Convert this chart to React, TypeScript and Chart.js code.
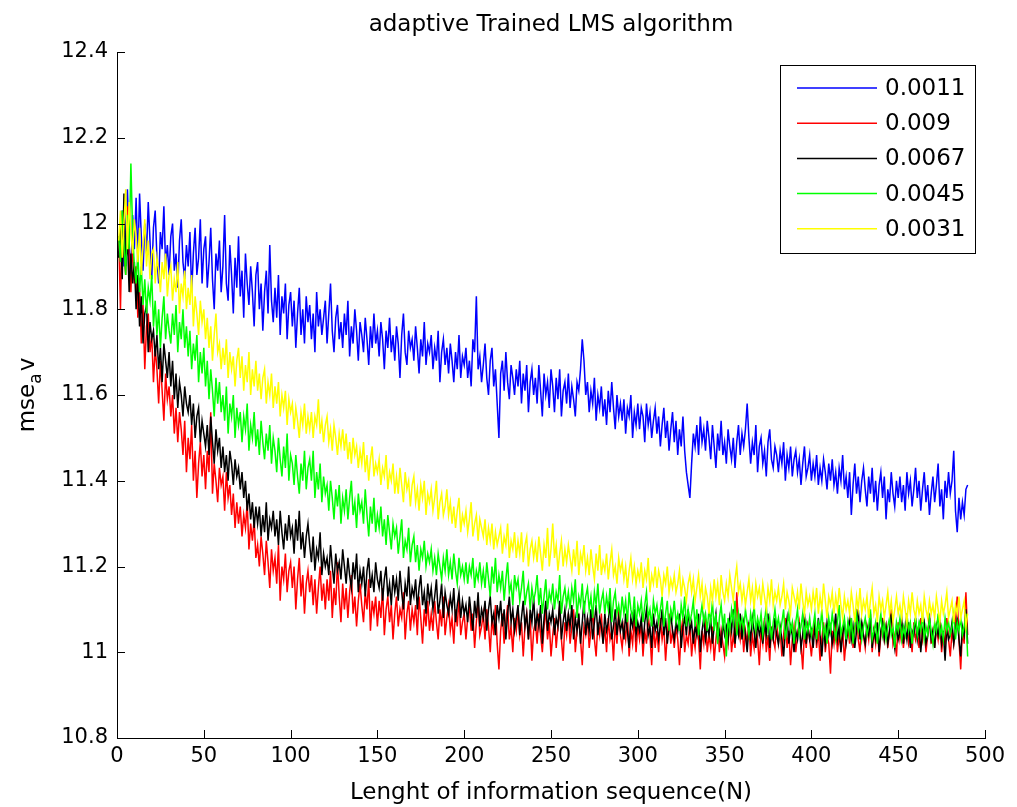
import React, { useEffect, useRef } from "react";
import { Chart, registerables } from "chart.js";
Chart.register(...registerables);

const FONT = "'DejaVu Sans', sans-serif";
const FONT_SIZE = 23;
const TICK_FONT_SIZE = 21;

const chartTitle = "adaptive Trained LMS algorithm";
const xAxisTitle = "Lenght of information sequence(N)";
const yAxisTitleMain = "mse";
const yAxisTitleSub = "a";
const yAxisTitleEnd = "v";

const xTickValues = [0, 50, 100, 150, 200, 250, 300, 350, 400, 450, 500];
const yTickValues = [10.8, 11, 11.2, 11.4, 11.6, 11.8, 12, 12.2, 12.4];

const seriesLabels = ["0.0011", "0.009", "0.0067", "0.0045", "0.0031"];
const seriesColors = ["#0000ff", "#ff0000", "#000000", "#00ff00", "#ffff00"];

const mu0011 = [
  11.93, 11.99, 12.03, 11.90, 11.97, 12.08, 11.95, 11.88, 12.02, 11.94,
  12.06, 11.91, 12.07, 11.97, 11.89, 12.00, 11.93, 12.05, 11.96, 11.87,
  11.99, 12.03, 11.92, 11.86, 11.98, 11.94, 12.04, 11.90, 11.95, 11.88,
  11.97, 12.00, 11.89, 11.93, 11.85, 11.96, 12.01, 11.91, 11.87, 11.95,
  11.90, 11.98, 11.84, 11.93, 11.99, 11.88, 11.92, 12.01, 11.86, 11.94,
  11.97, 11.85, 11.91, 11.99, 11.87, 11.80, 11.93, 11.89, 11.96, 11.84,
  11.90, 12.02, 11.86, 11.82, 11.95, 11.88, 11.79, 11.92, 11.85, 11.97,
  11.83, 11.89, 11.78, 11.93, 11.86, 11.81, 11.90, 11.84, 11.76, 11.88,
  11.91, 11.80, 11.86, 11.75, 11.84, 11.89, 11.79, 11.95, 11.82, 11.77,
  11.85, 11.78, 11.88, 11.74, 11.83, 11.79, 11.86, 11.73, 11.81, 11.84,
  11.76, 11.82, 11.71, 11.79, 11.85, 11.74, 11.80, 11.72, 11.83, 11.77,
  11.81, 11.73, 11.79, 11.70, 11.84, 11.76, 11.80, 11.74, 11.78, 11.82,
  11.72, 11.79, 11.86, 11.75, 11.70, 11.78, 11.81, 11.73, 11.77, 11.71,
  11.79, 11.74, 11.82, 11.69, 11.76, 11.72, 11.80, 11.75, 11.68, 11.77,
  11.74, 11.70, 11.78, 11.73, 11.67, 11.76, 11.71, 11.79, 11.72, 11.75,
  11.69, 11.77, 11.73, 11.66, 11.75, 11.71, 11.78, 11.70, 11.74, 11.68,
  11.76, 11.72, 11.64, 11.74, 11.79, 11.70, 11.67, 11.75, 11.71, 11.73,
  11.68, 11.76, 11.71, 11.65, 11.73, 11.69, 11.77, 11.67, 11.72, 11.70,
  11.74, 11.66, 11.71, 11.68, 11.75, 11.63, 11.70, 11.73, 11.67, 11.71,
  11.65, 11.72, 11.68, 11.63, 11.70, 11.66, 11.74, 11.64, 11.69, 11.67,
  11.71, 11.64, 11.68, 11.62, 11.73, 11.70, 11.83, 11.66, 11.69, 11.63,
  11.67, 11.72, 11.64, 11.60, 11.68, 11.71, 11.62, 11.66, 11.58, 11.50,
  11.65, 11.68, 11.61, 11.70, 11.63, 11.59, 11.67, 11.64, 11.60, 11.66,
  11.62, 11.68, 11.58, 11.65, 11.61, 11.67, 11.56, 11.63, 11.66, 11.60,
  11.64, 11.58, 11.67, 11.61, 11.55, 11.65, 11.60, 11.63, 11.57, 11.66,
  11.62, 11.56, 11.64, 11.59, 11.66, 11.55, 11.61, 11.63, 11.58, 11.65,
  11.57, 11.62, 11.59, 11.55, 11.63, 11.61, 11.66, 11.73, 11.68, 11.60,
  11.63, 11.56, 11.61, 11.58, 11.64, 11.54, 11.60, 11.57, 11.62, 11.55,
  11.59, 11.53, 11.61, 11.56, 11.63, 11.57, 11.52, 11.60, 11.55, 11.58,
  11.54, 11.59, 11.51, 11.57, 11.55, 11.60, 11.50, 11.56, 11.53, 11.58,
  11.52, 11.57, 11.55, 11.49, 11.58, 11.53, 11.56, 11.50, 11.54, 11.57,
  11.51, 11.55, 11.48, 11.53, 11.57, 11.50, 11.54, 11.47, 11.52, 11.56,
  11.49, 11.54, 11.46, 11.52, 11.48, 11.55, 11.47, 11.42, 11.39, 11.36,
  11.44, 11.51, 11.48, 11.53, 11.46, 11.55, 11.49, 11.52, 11.47, 11.54,
  11.50, 11.45, 11.53, 11.48, 11.43, 11.51, 11.47, 11.54, 11.46, 11.49,
  11.44, 11.52, 11.48, 11.45, 11.50, 11.43, 11.49, 11.53, 11.46, 11.51,
  11.48, 11.52, 11.58, 11.50, 11.44, 11.49, 11.46, 11.53, 11.42, 11.48,
  11.50, 11.44, 11.47, 11.41, 11.49, 11.52, 11.45, 11.43, 11.48, 11.46,
  11.42, 11.47, 11.44, 11.49, 11.40, 11.46, 11.43, 11.48, 11.41, 11.45,
  11.47, 11.42, 11.45, 11.39, 11.44, 11.48, 11.41, 11.43, 11.46, 11.40,
  11.44, 11.41, 11.46, 11.39, 11.43, 11.40, 11.45, 11.42, 11.38, 11.44,
  11.40, 11.45, 11.39, 11.42, 11.37, 11.43, 11.40, 11.46, 11.38, 11.41,
  11.36, 11.42, 11.32, 11.39, 11.44, 11.37, 11.41, 11.35, 11.40, 11.43,
  11.38, 11.34, 11.41, 11.37, 11.43, 11.35, 11.40, 11.33, 11.39, 11.42,
  11.36, 11.41, 11.31, 11.38, 11.35, 11.42, 11.37, 11.34, 11.40, 11.36,
  11.41, 11.35, 11.39, 11.33, 11.42, 11.37, 11.40, 11.34, 11.38, 11.43,
  11.36, 11.40, 11.33, 11.38, 11.42, 11.35, 11.39, 11.32, 11.37, 11.41,
  11.35, 11.39, 11.44, 11.34, 11.38, 11.31, 11.40, 11.36, 11.42, 11.37,
  11.40, 11.47, 11.33, 11.28, 11.36, 11.31, 11.35, 11.32, 11.38, 11.39,
];

const mu009 = [
  11.97, 11.80, 12.02, 11.93, 11.88, 12.04, 11.91, 11.84, 11.96, 11.86,
  11.90, 11.78, 11.85, 11.72, 11.81, 11.66, 11.76, 11.79, 11.70, 11.74,
  11.63, 11.71, 11.66, 11.58, 11.68, 11.61, 11.54, 11.65, 11.59, 11.62,
  11.55, 11.60, 11.51, 11.57, 11.49, 11.56, 11.52, 11.46, 11.54, 11.42,
  11.50, 11.45, 11.53, 11.40, 11.47, 11.36, 11.44, 11.49, 11.41, 11.46,
  11.38, 11.47, 11.42, 11.56, 11.37, 11.44, 11.40, 11.35, 11.43, 11.39,
  11.41, 11.33, 11.42, 11.36, 11.39, 11.32, 11.37, 11.29, 11.35, 11.30,
  11.34, 11.27, 11.32, 11.29, 11.35, 11.24, 11.30, 11.26, 11.31, 11.22,
  11.25, 11.20, 11.27, 11.23, 11.18, 11.26, 11.21, 11.15, 11.24, 11.19,
  11.22, 11.16, 11.25, 11.12, 11.20, 11.17, 11.23, 11.14, 11.19, 11.21,
  11.15, 11.20, 11.10, 11.17, 11.22, 11.13, 11.18, 11.09, 11.16, 11.19,
  11.14, 11.18, 11.11, 11.17, 11.09, 11.15, 11.20, 11.12, 11.16, 11.10,
  11.17, 11.12, 11.19, 11.08, 11.15, 11.11, 11.21, 11.13, 11.07, 11.16,
  11.10, 11.15, 11.08, 11.14, 11.18, 11.09, 11.13, 11.06, 11.12, 11.16,
  11.11, 11.07, 11.14, 11.10, 11.17, 11.05, 11.12, 11.09, 11.13, 11.06,
  11.12, 11.08, 11.15, 11.04, 11.10, 11.13, 11.07, 11.11, 11.03, 11.09,
  11.13, 11.06, 11.10, 11.08, 11.14, 11.03, 11.09, 11.12, 11.05, 11.10,
  11.07, 11.11, 11.04, 11.13, 11.08, 11.02, 11.10, 11.06, 11.12, 11.05,
  11.09, 11.05, 11.12, 11.07, 11.03, 11.10, 11.06, 11.13, 11.04, 11.08,
  11.11, 11.05, 11.08, 11.02, 11.10, 11.06, 11.13, 11.04, 11.07, 11.09,
  11.03, 11.08, 11.11, 11.05, 11.09, 11.01, 11.07, 11.12, 11.04, 11.06,
  11.09, 11.03, 11.10, 11.06, 11.00, 11.08, 11.04, 11.11, 11.02, 10.96,
  11.05, 11.09, 11.02, 11.07, 11.11, 11.03, 11.06, 11.00, 11.08, 11.05,
  11.10, 11.04, 11.07, 10.99, 11.06, 11.09, 11.03, 11.08, 10.98, 11.05,
  11.07, 11.02, 11.09, 11.04, 11.00, 11.06, 11.10, 11.03, 11.07, 10.99,
  11.04, 11.08, 11.01, 11.06, 11.11, 11.03, 10.98, 11.07, 11.04, 11.09,
  11.02, 11.06, 11.10, 11.00, 11.05, 11.08, 11.03, 10.97, 11.06, 11.04,
  11.08, 11.01, 11.05, 11.10, 11.03, 10.99, 11.07, 11.04, 11.09, 11.02,
  11.06, 11.00, 11.08, 11.03, 11.05, 10.98, 11.07, 11.02, 11.10, 11.04,
  11.01, 11.06, 11.03, 11.09, 10.99, 11.05, 11.02, 11.08, 11.00, 11.06,
  11.03, 11.07, 10.99, 11.05, 11.02, 11.09, 11.04, 10.97, 11.06, 11.01,
  11.05, 11.00, 11.08, 11.03, 11.06, 10.98, 11.04, 11.09, 11.02, 11.05,
  11.01, 11.06, 11.03, 10.97, 11.05, 11.08, 11.00, 11.04, 11.02, 11.07,
  10.99, 11.04, 11.01, 11.06, 11.03, 10.96, 11.05, 11.02, 11.08, 11.00,
  11.04, 11.01, 11.06, 10.98, 11.03, 11.07, 11.00, 11.05, 11.02, 10.99,
  11.05, 11.02, 11.08, 11.00, 11.04, 11.01, 11.14, 11.06, 11.03, 11.07,
  11.00, 11.05, 11.02, 11.07, 10.99, 11.04, 11.01, 11.06, 11.03, 10.97,
  11.05, 11.02, 11.08, 11.00, 11.04, 10.98, 11.06, 11.03, 11.01, 11.07,
  11.02, 11.05, 10.99, 11.04, 11.08, 11.01, 11.05, 10.97, 11.03, 11.06,
  11.00, 11.04, 11.07, 11.02, 10.96, 11.05, 11.01, 11.06, 11.03, 10.99,
  11.04, 11.08, 11.01, 11.05, 10.98, 11.03, 11.07, 11.00, 11.04, 11.02,
  10.95, 11.05, 11.02, 11.07, 11.00, 11.04, 11.01, 11.06, 10.98, 11.03,
  11.06, 11.02, 11.08, 11.01, 11.05, 11.10, 11.03, 11.00, 11.07, 11.04,
  11.01, 11.06, 11.03, 11.09, 11.00, 11.05, 11.02, 11.07, 10.99, 11.04,
  11.08, 11.03, 11.06, 11.01, 11.05, 11.10, 11.02, 11.04, 10.99, 11.07,
  11.03, 11.06, 11.01, 11.05, 11.09, 11.02, 11.04, 11.00, 11.07, 11.03,
  11.05, 11.01, 11.08, 11.03, 11.06, 11.00, 11.04, 11.09, 11.02, 11.05,
  11.01, 11.06, 11.03, 11.07, 11.00, 11.04, 11.02, 11.08, 11.03, 10.99,
  11.05, 11.02, 11.07, 11.13, 11.03, 10.96, 11.05, 11.02, 11.14, 11.04,
];

const mu0067 = [
  11.92, 12.00, 11.87, 12.07, 11.90, 11.97, 11.84, 11.93, 11.86, 11.91,
  11.80, 11.88, 11.76, 11.83, 11.72, 11.79, 11.81, 11.70, 11.77, 11.73,
  11.75, 11.69, 11.74, 11.66, 11.71, 11.63, 11.72, 11.68, 11.64, 11.70,
  11.62, 11.68, 11.59, 11.65, 11.57, 11.63, 11.60, 11.55, 11.62, 11.58,
  11.56, 11.60, 11.53, 11.58, 11.50, 11.55, 11.57, 11.49, 11.54, 11.51,
  11.48, 11.53, 11.46, 11.55, 11.49, 11.44, 11.52, 11.47, 11.50, 11.43,
  11.48, 11.42, 11.46, 11.40, 11.47, 11.44, 11.39, 11.45, 11.41, 11.43,
  11.38, 11.42, 11.36, 11.40, 11.33, 11.37, 11.31, 11.35, 11.29, 11.34,
  11.30, 11.34, 11.27, 11.32, 11.28, 11.35, 11.26, 11.31, 11.29, 11.33,
  11.27, 11.31, 11.25, 11.33, 11.28, 11.24, 11.30, 11.26, 11.32, 11.27,
  11.29, 11.23, 11.31, 11.26, 11.33, 11.24, 11.28, 11.22, 11.27, 11.30,
  11.25, 11.21, 11.27, 11.19, 11.24, 11.22, 11.28, 11.18, 11.23, 11.20,
  11.22, 11.18, 11.25, 11.20, 11.16, 11.23, 11.19, 11.21, 11.17, 11.24,
  11.20, 11.16, 11.22, 11.18, 11.15, 11.21, 11.17, 11.23, 11.14, 11.19,
  11.16, 11.20, 11.13, 11.19, 11.22, 11.15, 11.18, 11.14, 11.21, 11.17,
  11.15, 11.19, 11.12, 11.17, 11.20, 11.13, 11.16, 11.11, 11.18, 11.14,
  11.17, 11.12, 11.19, 11.14, 11.10, 11.16, 11.13, 11.20, 11.11, 11.15,
  11.13, 11.17, 11.10, 11.15, 11.18, 11.11, 11.14, 11.09, 11.16, 11.12,
  11.15, 11.10, 11.13, 11.17, 11.09, 11.12, 11.16, 11.08, 11.14, 11.11,
  11.09, 11.13, 11.10, 11.15, 11.07, 11.11, 11.14, 11.08, 11.12, 11.09,
  11.11, 11.07, 11.13, 11.09, 11.05, 11.12, 11.08, 11.14, 11.06, 11.10,
  11.08, 11.12, 11.05, 11.10, 11.13, 11.07, 11.09, 11.04, 11.11, 11.08,
  11.12, 11.06, 11.10, 11.03, 11.09, 11.13, 11.07, 11.10, 11.05, 11.08,
  11.11, 11.04, 11.08, 11.12, 11.06, 11.09, 11.03, 11.10, 11.07, 11.13,
  11.05, 11.09, 11.06, 11.11, 11.02, 11.08, 11.12, 11.05, 11.09, 11.07,
  11.10, 11.04, 11.08, 11.06, 11.12, 11.03, 11.07, 11.10, 11.05, 11.09,
  11.06, 11.11, 11.03, 11.08, 11.05, 11.09, 11.02, 11.07, 11.12, 11.04,
  11.08, 11.05, 11.10, 11.03, 11.07, 11.11, 11.04, 11.08, 11.06, 11.02,
  11.09, 11.05, 11.07, 11.12, 11.03, 11.06, 11.10, 11.04, 11.08, 11.05,
  11.07, 11.03, 11.09, 11.05, 11.01, 11.08, 11.06, 11.10, 11.04, 11.07,
  11.05, 11.08, 11.02, 11.07, 11.10, 11.04, 11.06, 11.01, 11.09, 11.05,
  11.07, 11.03, 11.06, 11.10, 11.04, 11.08, 11.02, 11.06, 11.09, 11.05,
  11.03, 11.07, 11.05, 11.09, 11.01, 11.06, 11.08, 11.04, 11.10, 11.05,
  11.07, 11.02, 11.06, 11.04, 11.09, 11.00, 11.05, 11.08, 11.03, 11.06,
  11.04, 11.08, 11.02, 11.06, 11.09, 11.03, 11.05, 11.01, 11.07, 11.04,
  11.06, 11.03, 11.08, 11.05, 11.10, 11.02, 11.06, 11.04, 11.09, 11.03,
  11.07, 11.04, 11.00, 11.06, 11.03, 11.08, 11.05, 11.01, 11.07, 11.04,
  11.06, 11.02, 11.07, 11.04, 11.09, 11.01, 11.05, 11.03, 11.08, 11.04,
  11.02, 11.06, 11.03, 10.99, 11.05, 11.08, 11.02, 11.06, 11.04, 11.00,
  11.05, 11.03, 11.07, 11.01, 11.04, 11.09, 11.02, 11.06, 11.03, 11.05,
  11.01, 11.06, 11.03, 11.08, 11.04, 10.99, 11.05, 11.02, 11.07, 11.04,
  11.06, 11.02, 11.05, 11.09, 11.03, 11.06, 11.00, 11.04, 11.07, 11.02,
  11.05, 11.08, 11.03, 11.06, 11.01, 11.05, 11.10, 11.03, 11.07, 11.04,
  11.02, 11.06, 11.04, 11.08, 11.01, 11.05, 11.03, 11.07, 11.00, 11.05,
  11.07, 11.03, 11.06, 11.02, 11.05, 11.09, 11.04, 11.01, 11.06, 11.03,
  11.05, 11.08, 11.02, 11.06, 11.03, 11.07, 11.01, 11.05, 11.04, 11.08,
  11.03, 11.06, 11.00, 11.05, 11.07, 11.02, 11.04, 11.08, 11.03, 11.05,
  11.01, 11.06, 11.04, 11.07, 11.02, 11.05, 10.98, 11.06, 11.03, 11.04,
  11.07, 11.02, 11.05, 11.08, 11.03, 10.99, 11.06, 11.04, 11.10, 11.02,
];

const mu0045 = [
  11.97, 11.91, 12.03, 11.95, 11.88, 12.02, 11.94, 12.14, 11.98, 11.90,
  11.86, 11.93, 11.84, 11.90, 11.81, 11.87, 11.79, 11.85, 11.82, 11.88,
  11.76, 11.82, 11.74, 11.80, 11.71, 11.78, 11.83, 11.73, 11.79, 11.75,
  11.72, 11.79, 11.74, 11.81, 11.70, 11.77, 11.73, 11.80, 11.71, 11.76,
  11.69, 11.75, 11.66, 11.72, 11.68, 11.74, 11.63, 11.70, 11.65, 11.71,
  11.62, 11.68, 11.59, 11.66, 11.61, 11.55, 11.64, 11.58, 11.63, 11.56,
  11.60, 11.54, 11.62, 11.51, 11.58, 11.55, 11.60, 11.50, 11.57, 11.53,
  11.56, 11.49, 11.55, 11.52, 11.58, 11.47, 11.53, 11.50, 11.56, 11.48,
  11.52, 11.46, 11.54, 11.49, 11.45, 11.51, 11.47, 11.53, 11.44, 11.50,
  11.47, 11.42, 11.50, 11.45, 11.41, 11.48, 11.43, 11.51, 11.40, 11.46,
  11.44, 11.39, 11.46, 11.41, 11.37, 11.44, 11.40, 11.47, 11.38, 11.43,
  11.45, 11.40, 11.47, 11.36, 11.42, 11.38, 11.44, 11.35, 11.41, 11.37,
  11.39, 11.33, 11.40, 11.36, 11.31, 11.38, 11.34, 11.39, 11.30, 11.36,
  11.33, 11.38, 11.31, 11.36, 11.40, 11.32, 11.35, 11.29, 11.37, 11.33,
  11.35, 11.30, 11.38, 11.32, 11.27, 11.34, 11.30, 11.36, 11.28, 11.32,
  11.29, 11.34, 11.27, 11.31, 11.25, 11.32, 11.28, 11.24, 11.30, 11.27,
  11.29, 11.23, 11.27, 11.31, 11.22, 11.26, 11.24, 11.29, 11.21, 11.25,
  11.27, 11.21, 11.25, 11.19, 11.24, 11.22, 11.26, 11.20, 11.23, 11.21,
  11.24, 11.19, 11.22, 11.18, 11.23, 11.20, 11.17, 11.22, 11.19, 11.24,
  11.18, 11.21, 11.17, 11.23, 11.19, 11.16, 11.22, 11.18, 11.20, 11.17,
  11.21, 11.16, 11.20, 11.18, 11.22, 11.15, 11.19, 11.17, 11.21, 11.16,
  11.19, 11.15, 11.21, 11.17, 11.13, 11.20, 11.16, 11.22, 11.14, 11.18,
  11.15, 11.19, 11.12, 11.17, 11.21, 11.14, 11.16, 11.11, 11.18, 11.15,
  11.17, 11.12, 11.15, 11.19, 11.11, 11.14, 11.16, 11.10, 11.15, 11.12,
  11.14, 11.18, 11.11, 11.15, 11.09, 11.13, 11.17, 11.10, 11.14, 11.12,
  11.16, 11.10, 11.14, 11.12, 11.18, 11.09, 11.13, 11.15, 11.11, 11.14,
  11.10, 11.15, 11.12, 11.17, 11.08, 11.13, 11.11, 11.16, 11.09, 11.13,
  11.15, 11.10, 11.13, 11.08, 11.14, 11.11, 11.16, 11.09, 11.12, 11.14,
  11.09, 11.13, 11.10, 11.15, 11.07, 11.12, 11.14, 11.09, 11.11, 11.08,
  11.13, 11.09, 11.12, 11.07, 11.14, 11.10, 11.08, 11.13, 11.06, 11.11,
  11.09, 11.12, 11.07, 11.11, 11.14, 11.08, 11.10, 11.06, 11.12, 11.09,
  11.11, 11.07, 11.10, 11.13, 11.06, 11.09, 11.12, 11.05, 11.10, 11.08,
  11.12, 11.07, 11.09, 11.05, 11.11, 11.08, 11.13, 11.06, 11.10, 11.07,
  11.09, 11.12, 11.06, 11.10, 11.04, 11.08, 11.11, 11.07, 11.09, 11.05,
  11.10, 11.07, 11.12, 11.05, 11.09, 11.02, 11.08, 11.11, 11.06, 11.09,
  10.99, 11.08, 11.05, 11.10, 11.07, 11.12, 11.04, 11.09, 11.06, 11.08,
  11.05, 11.10, 11.07, 11.04, 11.09, 11.06, 11.11, 11.05, 11.08, 11.06,
  11.09, 11.04, 11.07, 11.11, 11.05, 11.08, 11.03, 11.07, 11.10, 11.06,
  11.08, 11.04, 11.07, 11.10, 11.03, 11.06, 11.09, 11.05, 11.07, 11.02,
  11.07, 11.10, 11.04, 11.06, 11.09, 11.03, 11.07, 11.05, 11.08, 11.04,
  11.06, 11.09, 11.03, 11.07, 11.05, 11.10, 11.04, 11.06, 11.02, 11.08,
  11.05, 11.09, 11.06, 11.03, 11.07, 11.11, 11.04, 11.06, 11.08, 11.03,
  11.07, 11.04, 11.08, 11.02, 11.06, 11.09, 11.05, 11.07, 11.03, 11.06,
  11.08, 11.04, 11.06, 11.10, 11.03, 11.05, 11.07, 11.02, 11.06, 11.09,
  11.04, 11.07, 11.03, 11.06, 11.08, 11.04, 11.06, 11.01, 11.07, 11.05,
  11.08, 11.03, 11.06, 11.04, 11.09, 11.05, 11.07, 11.02, 11.06, 11.08,
  11.04, 11.07, 11.05, 11.09, 11.03, 11.06, 11.04, 11.08, 11.05, 11.02,
  11.07, 11.05, 11.09, 11.04, 11.06, 11.03, 11.08, 11.05, 11.07, 11.04,
  11.06, 11.09, 11.03, 11.07, 11.05, 11.08, 11.04, 11.06, 11.09, 10.99,
];

const mu0031 = [
  11.96, 12.03, 11.92, 12.00, 12.08, 11.94, 12.05, 11.98, 11.93, 12.01,
  11.97, 11.91, 11.99, 11.88, 11.95, 12.01, 11.90, 11.96, 11.87, 11.93,
  11.94, 11.86, 11.92, 11.89, 11.84, 11.91, 11.87, 11.93, 11.83, 11.88,
  11.90, 11.82, 11.87, 11.84, 11.91, 11.79, 11.86, 11.83, 11.89, 11.80,
  11.85, 11.81, 11.88, 11.76, 11.83, 11.79, 11.74, 11.82, 11.77, 11.80,
  11.73, 11.78, 11.71, 11.76, 11.68, 11.74, 11.79, 11.70, 11.72, 11.66,
  11.71, 11.67, 11.73, 11.64, 11.70, 11.66, 11.69, 11.62, 11.68, 11.71,
  11.64, 11.69, 11.61, 11.67, 11.63, 11.70, 11.60, 11.66, 11.62, 11.68,
  11.61, 11.65, 11.59, 11.64, 11.66, 11.58, 11.63, 11.60, 11.65, 11.57,
  11.62, 11.58, 11.63, 11.55, 11.60, 11.57, 11.61, 11.53, 11.59, 11.56,
  11.58, 11.52, 11.57, 11.54, 11.50, 11.56, 11.53, 11.58, 11.51, 11.55,
  11.52, 11.56, 11.50, 11.55, 11.53, 11.59, 11.51, 11.54, 11.49, 11.53,
  11.55, 11.49, 11.52, 11.47, 11.53, 11.50, 11.46, 11.51, 11.48, 11.52,
  11.47, 11.51, 11.45, 11.49, 11.44, 11.50, 11.46, 11.48, 11.43, 11.47,
  11.44, 11.49, 11.42, 11.46, 11.40, 11.45, 11.48, 11.41, 11.44, 11.42,
  11.45, 11.39, 11.43, 11.41, 11.46, 11.38, 11.42, 11.40, 11.44, 11.37,
  11.41, 11.37, 11.43, 11.39, 11.35, 11.42, 11.38, 11.40, 11.34, 11.39,
  11.41, 11.35, 11.38, 11.33, 11.39, 11.36, 11.40, 11.32, 11.37, 11.35,
  11.38, 11.33, 11.36, 11.40, 11.31, 11.35, 11.37, 11.32, 11.34, 11.38,
  11.32, 11.35, 11.30, 11.34, 11.29, 11.33, 11.36, 11.28, 11.32, 11.30,
  11.33, 11.28, 11.31, 11.35, 11.27, 11.30, 11.32, 11.26, 11.31, 11.29,
  11.27, 11.31, 11.25, 11.29, 11.26, 11.30, 11.24, 11.28, 11.25, 11.27,
  11.29, 11.23, 11.27, 11.25, 11.30, 11.22, 11.26, 11.24, 11.28, 11.22,
  11.26, 11.23, 11.28, 11.21, 11.25, 11.27, 11.20, 11.24, 11.26, 11.22,
  11.25, 11.21, 11.27, 11.23, 11.19, 11.25, 11.22, 11.29, 11.20, 11.24,
  11.30, 11.22, 11.25, 11.19, 11.23, 11.26, 11.20, 11.24, 11.21, 11.25,
  11.22, 11.19, 11.24, 11.20, 11.26, 11.18, 11.23, 11.21, 11.25, 11.19,
  11.22, 11.18, 11.24, 11.20, 11.17, 11.23, 11.19, 11.25, 11.18, 11.21,
  11.19, 11.23, 11.17, 11.21, 11.24, 11.18, 11.20, 11.16, 11.22, 11.19,
  11.21, 11.17, 11.20, 11.15, 11.19, 11.22, 11.17, 11.20, 11.16, 11.19,
  11.17, 11.21, 11.15, 11.19, 11.17, 11.22, 11.14, 11.18, 11.16, 11.20,
  11.15, 11.19, 11.17, 11.13, 11.18, 11.16, 11.20, 11.14, 11.17, 11.15,
  11.18, 11.14, 11.16, 11.19, 11.13, 11.17, 11.15, 11.12, 11.16, 11.18,
  11.14, 11.17, 11.12, 11.15, 11.18, 11.13, 11.16, 11.10, 11.15, 11.13,
  11.09, 11.15, 11.12, 11.17, 11.13, 11.16, 11.11, 11.18, 11.14, 11.12,
  11.16, 11.13, 11.18, 11.15, 11.12, 11.17, 11.20, 11.14, 11.16, 11.12,
  11.15, 11.11, 11.14, 11.17, 11.12, 11.15, 11.10, 11.16, 11.13, 11.15,
  11.11, 11.16, 11.13, 11.10, 11.15, 11.12, 11.17, 11.11, 11.14, 11.12,
  11.15, 11.11, 11.13, 11.16, 11.10, 11.14, 11.12, 11.09, 11.15, 11.13,
  11.11, 11.14, 11.10, 11.16, 11.12, 11.09, 11.14, 11.11, 11.13, 11.10,
  11.14, 11.11, 11.15, 11.09, 11.13, 11.10, 11.16, 11.12, 11.08, 11.13,
  11.11, 11.14, 11.09, 11.13, 11.10, 11.15, 11.11, 11.08, 11.13, 11.10,
  11.12, 11.09, 11.14, 11.11, 11.07, 11.13, 11.10, 11.15, 11.09, 11.12,
  11.10, 11.13, 11.08, 11.12, 11.15, 11.09, 11.11, 11.07, 11.13, 11.10,
  11.12, 11.08, 11.11, 11.14, 11.09, 11.12, 11.07, 11.10, 11.13, 11.09,
  11.11, 11.08, 11.13, 11.10, 11.07, 11.12, 11.09, 11.14, 11.10, 11.08,
  11.12, 11.09, 11.11, 11.07, 11.13, 11.10, 11.08, 11.12, 11.09, 11.11,
  11.08, 11.13, 11.10, 11.07, 11.12, 11.09, 11.11, 11.14, 11.08, 11.10,
  11.12, 11.07, 11.11, 11.09, 11.13, 11.08, 11.10, 11.12, 11.06, 11.09,
];

const seriesValues = [mu0011, mu009, mu0067, mu0045, mu0031];

const decorations = {
  id: "decorations",
  afterDraw(chart: any) {
    const { ctx, chartArea, scales } = chart;
    const xs = scales.x;
    const ys = scales.y;
    const mainFont = `${FONT_SIZE}px ${FONT}`;
    const subFont = `${Math.round(FONT_SIZE * 0.72)}px ${FONT}`;
    ctx.save();

    // inward tick marks
    ctx.strokeStyle = "#000";
    ctx.lineWidth = 1;
    ctx.beginPath();
    xTickValues.forEach((v) => {
      const p = Math.round(xs.getPixelForValue(v)) + 0.5;
      ctx.moveTo(p, chartArea.bottom);
      ctx.lineTo(p, chartArea.bottom - 8);
    });
    yTickValues.forEach((v) => {
      const p = Math.round(ys.getPixelForValue(v)) + 0.5;
      ctx.moveTo(chartArea.left, p);
      ctx.lineTo(chartArea.left + 8, p);
    });
    ctx.stroke();

    // title and x-axis title
    ctx.fillStyle = "#000";
    ctx.font = mainFont;
    ctx.textAlign = "center";
    ctx.textBaseline = "middle";
    const cx = (chartArea.left + chartArea.right) / 2;
    ctx.fillText(chartTitle, cx, 25);
    ctx.fillText(xAxisTitle, cx, 793);

    // y-axis title with subscript
    ctx.save();
    ctx.translate(27, (chartArea.top + chartArea.bottom) / 2);
    ctx.rotate(-Math.PI / 2);
    ctx.textAlign = "left";
    ctx.textBaseline = "alphabetic";
    ctx.font = mainFont;
    const mainW = ctx.measureText(yAxisTitleMain).width;
    const endW = ctx.measureText(yAxisTitleEnd).width;
    ctx.font = subFont;
    const subW = ctx.measureText(yAxisTitleSub).width;
    const total = mainW + subW + endW + 2;
    let px = -total / 2;
    ctx.font = mainFont;
    ctx.fillText(yAxisTitleMain, px, 7);
    px += mainW;
    ctx.font = subFont;
    ctx.fillText(yAxisTitleSub, px, 14);
    px += subW + 2;
    ctx.font = mainFont;
    ctx.fillText(yAxisTitleEnd, px, 7);
    ctx.restore();

    // legend box
    const bx = 780.5, by = 65.5, bw = 195, bh = 188;
    ctx.fillStyle = "#fff";
    ctx.fillRect(bx, by, bw, bh);
    ctx.strokeStyle = "#000";
    ctx.lineWidth = 1;
    ctx.strokeRect(bx, by, bw, bh);
    ctx.font = mainFont;
    ctx.textAlign = "left";
    ctx.textBaseline = "middle";
    seriesLabels.forEach((lab, i) => {
      const yy = 88 + i * 35.2;
      ctx.strokeStyle = seriesColors[i];
      ctx.lineWidth = 1.5;
      ctx.beginPath();
      ctx.moveTo(797, yy);
      ctx.lineTo(877, yy);
      ctx.stroke();
      ctx.fillStyle = "#000";
      ctx.fillText(lab, 885, yy + 1);
    });
    ctx.restore();
  },
};

export default function App() {
  const canvasRef = useRef<HTMLCanvasElement | null>(null);

  useEffect(() => {
    const canvas = canvasRef.current;
    if (!canvas) return;
    const datasets = seriesValues.map((vals, k) => ({
      label: seriesLabels[k],
      data: vals.map((v, i) => ({ x: i + 1, y: v })),
      borderColor: seriesColors[k],
      backgroundColor: seriesColors[k],
      borderWidth: 1.5,
      pointRadius: 0,
      pointHoverRadius: 0,
      fill: false,
      tension: 0,
      order: seriesValues.length - k,
    }));

    const chart = new Chart(canvas, {
      type: "line",
      data: { datasets },
      options: {
        animation: false,
        responsive: false,
        devicePixelRatio: 1,
        parsing: false,
        normalized: true,
        events: [],
        layout: { padding: { top: 52, right: 32, left: 0, bottom: 0 } },
        plugins: {
          legend: { display: false },
          title: { display: false },
          tooltip: { enabled: false },
        },
        scales: {
          x: {
            type: "linear",
            min: 0,
            max: 500,
            grid: { display: false, drawTicks: false },
            border: { display: true, color: "#000", width: 1 },
            afterBuildTicks: (s: any) => {
              s.ticks = xTickValues.map((v) => ({ value: v }));
            },
            afterFit: (s: any) => {
              s.height = 69;
            },
            ticks: {
              autoSkip: false,
              maxRotation: 0,
              padding: 6,
              color: "#000",
              font: { family: FONT, size: TICK_FONT_SIZE },
              callback: (v: any) => String(v),
            },
          },
          y: {
            type: "linear",
            min: 10.8,
            max: 12.4,
            grid: { display: false, drawTicks: false },
            border: { display: true, color: "#000", width: 1 },
            afterBuildTicks: (s: any) => {
              s.ticks = yTickValues.map((v) => ({ value: v }));
            },
            afterFit: (s: any) => {
              s.width = 117;
            },
            ticks: {
              autoSkip: false,
              padding: 9,
              color: "#000",
              font: { family: FONT, size: TICK_FONT_SIZE },
              callback: (v: any) => String(v),
            },
          },
        },
      },
      plugins: [decorations],
    });

    return () => {
      chart.destroy();
    };
  }, []);

  return (
    <div
      style={{
        position: "absolute",
        left: 0,
        top: 0,
        width: 1017,
        height: 807,
        background: "#fff",
      }}
    >
      <canvas
        ref={canvasRef}
        width={1017}
        height={807}
        style={{ display: "block", width: 1017, height: 807 }}
      />
    </div>
  );
}
